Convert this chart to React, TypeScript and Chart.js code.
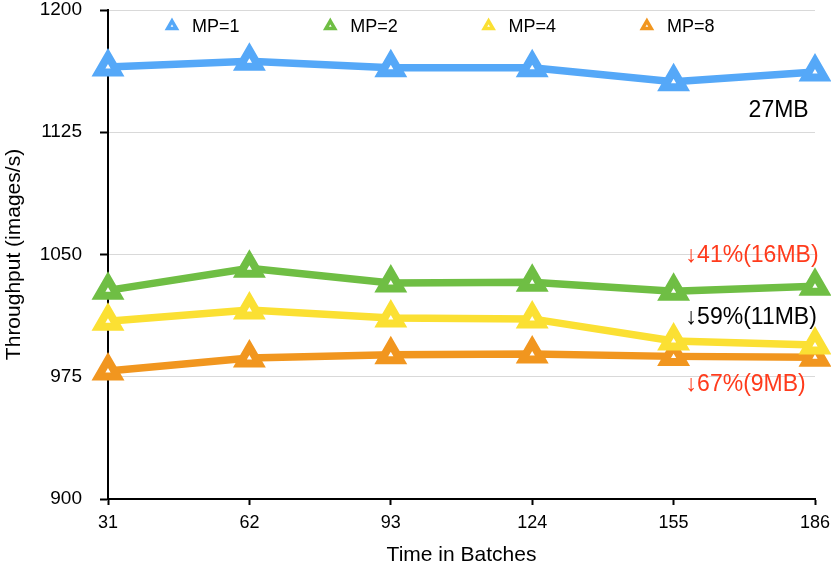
import { useEffect, useRef } from "react";
import { Chart, registerables } from "chart.js";

Chart.register(...registerables);

const batches = ["31", "62", "93", "124", "155", "186"];
const mp1 = [1165, 1168.5, 1164.5, 1164.5, 1156, 1162];
const mp2 = [1028, 1041.5, 1032.5, 1033, 1027.5, 1030.5];
const mp4 = [1009, 1016, 1011, 1010.5, 997, 994.5];
const mp8 = [978.5, 986.5, 988.5, 989, 987.5, 987];
const yTicks = [900, 975, 1050, 1125, 1200];

const seriesNames = ["MP=1", "MP=2", "MP=4", "MP=8"];
const seriesColors = ["#55a8f8", "#6fbe44", "#fbe033", "#f1961f"];

const noteTexts = ["27MB", "\u219341%(16MB)", "\u219359%(11MB)", "\u219367%(9MB)"];
const noteValues = [1138, 1049.5, 1011, 970];
const noteColors = ["#000000", "#ff3b1c", "#000000", "#ff3b1c"];

const FONT = "'Liberation Sans', Arial, Helvetica, sans-serif";

// text notes at the right side of the plot
const notesPlugin = {
  id: "notes",
  afterDatasetsDraw(chart: Chart) {
    const { ctx, scales } = chart;
    const x0 = scales.x.getPixelForValue(4);
    ctx.save();
    ctx.font = `23px ${FONT}`;
    ctx.textAlign = "left";
    ctx.textBaseline = "middle";
    noteTexts.forEach((t, i) => {
      ctx.fillStyle = noteColors[i];
      const dx = i === 0 ? 75 : 12;
      ctx.fillText(t, x0 + dx, scales.y.getPixelForValue(noteValues[i]));
    });
    ctx.restore();
  },
};

// legend drawn inside the plot, one row at the top
const legendPlugin = {
  id: "insideLegend",
  afterDatasetsDraw(chart: Chart) {
    const { ctx, chartArea } = chart;
    const y = chartArea.top + 16;
    ctx.save();
    ctx.font = `18px ${FONT}`;
    ctx.textBaseline = "middle";
    ctx.textAlign = "left";
    chart.data.datasets.forEach((ds, i) => {
      const cx = chartArea.left + 64 + i * 158.3;
      const r = 5;
      ctx.beginPath();
      ctx.moveTo(cx, y - r);
      ctx.lineTo(cx + r * 0.866, y + r * 0.5);
      ctx.lineTo(cx - r * 0.866, y + r * 0.5);
      ctx.closePath();
      ctx.fillStyle = "#fff";
      ctx.fill();
      ctx.lineWidth = 3.5;
      ctx.strokeStyle = seriesColors[i];
      ctx.stroke();
      ctx.fillStyle = "#000";
      ctx.fillText(ds.label as string, cx + 20, y + 1);
    });
    ctx.restore();
  },
};

export default function App() {
  const canvasRef = useRef<HTMLCanvasElement>(null);

  useEffect(() => {
    if (!canvasRef.current) return;
    const all = [mp1, mp2, mp4, mp8];
    const chart = new Chart(canvasRef.current, {
      type: "line",
      data: {
        labels: batches,
        datasets: all.map((d, i) => ({
          label: seriesNames[i],
          data: d,
          borderColor: seriesColors[i],
          backgroundColor: seriesColors[i],
          borderWidth: 7.5,
          pointStyle: "triangle",
          pointRadius: 11,
          pointBorderWidth: 8,
          pointBackgroundColor: "#ffffff",
          pointBorderColor: seriesColors[i],
          tension: 0,
          clip: false,
        })),
      },
      plugins: [notesPlugin, legendPlugin],
      options: {
        animation: false,
        responsive: false,
        layout: { autoPadding: false, padding: { top: 10, right: 16, left: 0, bottom: 0 } },
        plugins: {
          legend: { display: false },
          tooltip: { enabled: false },
        },
        scales: {
          x: {
            offset: false,
            grid: {
              display: true,
              drawOnChartArea: false,
              tickLength: 6,
              tickColor: "#000",
              tickWidth: 2,
            },
            border: { color: "#000", width: 2 },
            ticks: {
              color: "#000",
              font: { family: FONT, size: 18 },
              padding: 7,
            },
            title: {
              display: true,
              text: "Time in Batches",
              color: "#000",
              font: { family: FONT, size: 21 },
              padding: { top: 10, bottom: 4 },
            },
            afterFit: (s: any) => {
              s.height = 73;
              s.paddingLeft = 0;
              s.paddingRight = 0;
            },
          },
          y: {
            min: 900,
            max: 1200,
            afterBuildTicks: (s: any) => {
              s.ticks = yTicks.map((v) => ({ value: v }));
            },
            grid: {
              color: "#d9d9d9",
              lineWidth: 1,
              tickLength: 8,
              tickColor: "#000",
              tickWidth: 2,
            },
            border: { color: "#000", width: 2 },
            ticks: {
              color: "#000",
              font: { family: FONT, size: 19 },
              padding: 18,
              callback: (v: any) => String(v),
            },
            title: {
              display: true,
              text: "Throughput (images/s)",
              color: "#000",
              font: { family: FONT, size: 21 },
              padding: { top: 2, bottom: 0 },
            },
            afterFit: (s: any) => {
              s.width = 108;
              s.paddingTop = 0;
              s.paddingBottom = 0;
            },
          },
        },
      },
    });
    return () => chart.destroy();
  }, []);

  return (
    <div style={{ position: "absolute", left: 0, top: 0, width: 831, height: 572, background: "#fff" }}>
      <canvas ref={canvasRef} width={831} height={572} style={{ width: 831, height: 572 }} />
    </div>
  );
}
